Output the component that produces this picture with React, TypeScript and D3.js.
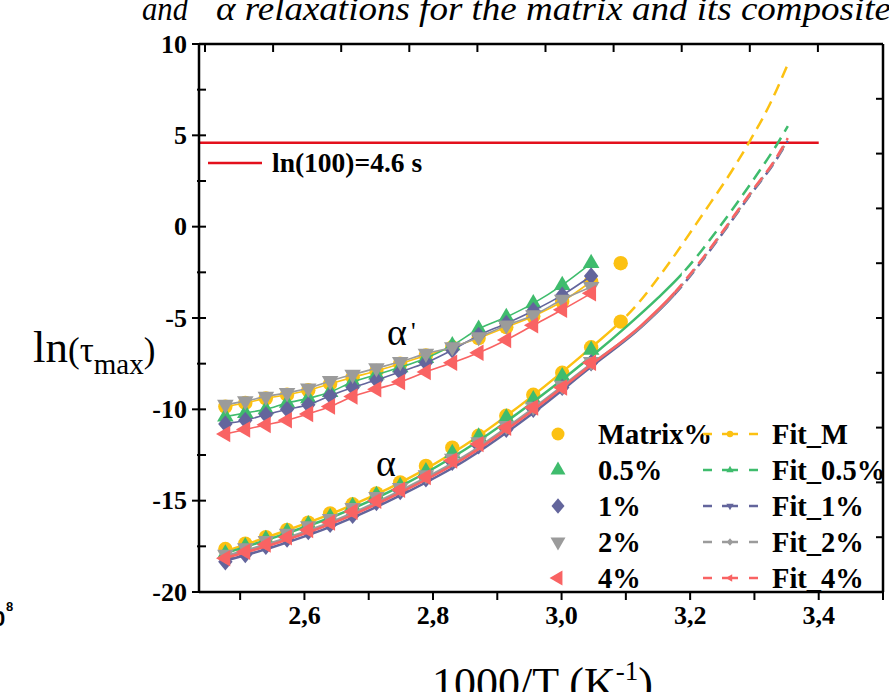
import React from 'react';
import * as d3 from 'd3';

const W = 889;
const H = 692;

// 1000/T positions of the measured temperatures
const xTemps = [2.477, 2.508, 2.540, 2.573, 2.606, 2.640, 2.675, 2.712, 2.749, 2.789, 2.830, 2.871, 2.914, 2.956, 3.001, 3.046, 3.092];

// alpha' relaxation (upper branch)
const alphaPrimeMatrix = [-9.85, -9.65, -9.4, -9.2, -8.95, -8.6, -8.25, -7.9, -7.5, -7.05, -6.6, -6.1, -5.5, -4.9, -4.1, -3.0, -2.0];
const alphaPrime05 = [-10.4, -10.2, -10.0, -9.65, -9.4, -9.05, -8.5, -8.1, -7.7, -7.2, -6.5, -5.6, -4.95, -4.2, -3.2, -2.0];
const alphaPrime1 = [-10.8, -10.6, -10.3, -10.0, -9.75, -9.25, -8.8, -8.4, -7.95, -7.45, -6.75, -5.95, -5.3, -4.6, -3.75, -2.7];
const alphaPrime2 = [-9.75, -9.55, -9.3, -9.1, -8.85, -8.45, -8.1, -7.75, -7.4, -6.95, -6.6, -6.05, -5.4, -4.85, -4.0, -3.3];
const alphaPrime4 = [-11.35, -11.1, -10.85, -10.6, -10.25, -9.85, -9.3, -8.9, -8.5, -7.95, -7.45, -6.9, -6.2, -5.4, -4.55, -3.65];

// alpha relaxation (lower branch)
const alphaMatrix = [-17.65, -17.35, -17.0, -16.6, -16.2, -15.7, -15.2, -14.6, -14.0, -13.1, -12.1, -11.45, -10.35, -9.2, -8.0, -6.6, -5.2];
const alpha05 = [-17.9, -17.5, -17.1, -16.7, -16.3, -15.9, -15.3, -14.7, -14.2, -13.4, -12.4, -11.5, -10.45, -9.45, -8.2, -6.75];
const alpha1 = [-18.35, -17.95, -17.5, -17.1, -16.7, -16.3, -15.8, -15.1, -14.5, -13.8, -12.9, -12.0, -11.1, -10.0, -8.8, -7.45];
const alpha2 = [-17.95, -17.6, -17.2, -16.8, -16.4, -16.0, -15.4, -14.8, -14.3, -13.6, -12.7, -11.8, -10.9, -9.85, -8.7, -7.4];
const alpha4 = [-18.15, -17.8, -17.4, -17.0, -16.6, -16.2, -15.6, -15.0, -14.4, -13.7, -12.8, -11.9, -11.0, -9.9, -8.8, -7.45];

// VFT fit curves
const fitXM = [2.47, 2.55, 2.65, 2.75, 2.85, 2.95, 3.05, 3.092, 3.114, 3.167, 3.218, 3.271, 3.293, 3.324, 3.352];
const fitYM = [-17.85, -16.9, -15.6, -14.0, -11.95, -9.4, -6.5, -5.2, -4.4, -2.0, 0.6, 3.4, 4.7, 6.7, 8.9];
const fitX05 = [2.47, 2.55, 2.65, 2.75, 2.85, 2.95, 3.05, 3.1, 3.15, 3.187, 3.218, 3.244, 3.271, 3.297, 3.335, 3.352];
const fitY05 = [-17.95, -17.05, -15.8, -14.2, -12.2, -9.75, -7.0, -5.5, -3.9, -2.6, -1.3, -0.1, 1.2, 2.5, 4.5, 5.5];
const fitXC = [2.47, 2.55, 2.65, 2.75, 2.85, 2.95, 3.045, 3.124, 3.176, 3.218, 3.26, 3.297, 3.329, 3.352];
const fitY1 = [-18.35, -17.55, -16.3, -14.7, -12.8, -10.35, -7.7, -5.5, -3.7, -1.9, 0.1, 1.9, 3.4, 4.7];
const fitY2 = [-18.1, -17.3, -16.05, -14.45, -12.55, -10.1, -7.55, -5.45, -3.65, -1.85, 0.15, 1.95, 3.45, 4.75];
const fitY4 = [-18.2, -17.4, -16.15, -14.55, -12.65, -10.2, -7.6, -5.4, -3.6, -1.8, 0.2, 2.0, 3.5, 4.85];

const refLevel = 4.6;
const refRange = [2.436, 3.4];

const xTickValues = [2.5, 2.6, 2.7, 2.8, 2.9, 3.0, 3.1, 3.2, 3.3, 3.4, 3.5];
const xTickLabels = ['2,6', '2,8', '3,0', '3,2', '3,4'];
const xLabelValues = [2.6, 2.8, 3.0, 3.2, 3.4];
const yMajor = [-20, -15, -10, -5, 0, 5, 10];
const yMinor = [-17.5, -12.5, -7.5, -2.5, 2.5, 7.5];

type Sym = 'circle' | 'up' | 'diamond' | 'down' | 'left';

const series = [
  { name: 'Matrix%', fit: 'Fit_M', color: '#fcc112', sym: 'circle' as Sym, ap: alphaPrimeMatrix, a: alphaMatrix, fx: fitXM, fy: fitYM, split: 3.092 },
  { name: '0.5%', fit: 'Fit_0.5%', color: '#3fbc6d', sym: 'up' as Sym, ap: alphaPrime05, a: alpha05, fx: fitX05, fy: fitY05, split: 3.187 },
  { name: '1%', fit: 'Fit_1%', color: '#63659c', sym: 'diamond' as Sym, ap: alphaPrime1, a: alpha1, fx: fitXC, fy: fitY1, split: 3.176 },
  { name: '2%', fit: 'Fit_2%', color: '#9b9b9b', sym: 'down' as Sym, ap: alphaPrime2, a: alpha2, fx: fitXC, fy: fitY2, split: 3.176 },
  { name: '4%', fit: 'Fit_4%', color: '#f96363', sym: 'left' as Sym, ap: alphaPrime4, a: alpha4, fx: fitXC, fy: fitY4, split: 3.176 },
];
const fitSmallSym: Sym[] = ['circle', 'up', 'down', 'diamond', 'left'];

function symPath(t: Sym, s: number): string {
  switch (t) {
    case 'circle':
      return `M${s},0A${s},${s} 0 1,1 ${-s},0A${s},${s} 0 1,1 ${s},0Z`;
    case 'up':
      return `M0,${-1.3 * s}L${1.15 * s},${0.68 * s}L${-1.15 * s},${0.68 * s}Z`;
    case 'down':
      return `M0,${1.3 * s}L${1.15 * s},${-0.68 * s}L${-1.15 * s},${-0.68 * s}Z`;
    case 'left':
      return `M${-1.3 * s},0L${0.68 * s},${-1.15 * s}L${0.68 * s},${1.15 * s}Z`;
    case 'diamond':
      return `M0,${-1.2 * s}L${s},0L0,${1.2 * s}L${-s},0Z`;
  }
}

const SERIF = "'Liberation Serif', 'Times New Roman', Times, serif";
const SANS = "'Liberation Sans', Arial, sans-serif";

export default function App() {
  const x = d3.scaleLinear().domain([2.436, 3.5]).range([199, 883]);
  const y = d3.scaleLinear().domain([-20, 10]).range([592, 44]);
  const xTop = d3.scaleLinear().domain([0, 10]).range([205, 886]);
  const yRight = d3.scaleLinear().domain([0, 10]).range([592, 44]);

  const line = d3
    .line<[number, number]>()
    .x((d) => x(d[0]))
    .y((d) => y(d[1]))
    .curve(d3.curveMonotoneX);

  const left = x.range()[0];
  const right = x.range()[1];
  const top = y.range()[1];
  const bottom = y.range()[0];

  const legendRowY = (i: number) => 444 + i * 36;
  const MS = 7.2;

  return (
    <div style={{ position: 'absolute', left: 0, top: 0, width: W, height: H, background: '#fff' }}>
      <svg width={W} height={H} viewBox={`0 0 ${W} ${H}`} style={{ display: 'block' }}>
        <defs>
          {series.map((s, si) => (
            <React.Fragment key={'cp' + si}>
              <clipPath id={`solid${si}`}>
                <rect x={0} y={0} width={x(s.split)} height={H} />
              </clipPath>
              <clipPath id={`dash${si}`}>
                <rect x={x(s.split)} y={0} width={W - x(s.split)} height={H} />
              </clipPath>
            </React.Fragment>
          ))}
        </defs>
        <rect x={0} y={0} width={W} height={H} fill="#fff" />

        {/* title fragment */}
        <text x={142} y={20} fontFamily={SERIF} fontStyle="italic" fontSize={34} textLength={46} lengthAdjust="spacingAndGlyphs">and</text>
        <text x={216} y={20} fontFamily={SERIF} fontStyle="italic" fontSize={34} textLength={675} lengthAdjust="spacingAndGlyphs">
          α relaxations for the matrix and its composite
        </text>

        {/* stray label from neighbour panel */}
        <text x={-7} y={626} fontFamily={SANS} fontWeight="bold" fontSize={22}>0</text>
        <text x={6} y={611} fontFamily={SANS} fontWeight="bold" fontSize={13}>8</text>

        {/* reference line */}
        <line x1={x(refRange[0])} x2={x(refRange[1])} y1={y(refLevel)} y2={y(refLevel)} stroke="#e3101c" strokeWidth={2.5} />
        <line x1={208} x2={262} y1={163} y2={163} stroke="#e3101c" strokeWidth={2.5} />
        <text x={272} y={172} fontFamily={SERIF} fontWeight="bold" fontSize={27.5}>ln(100)=4.6 s</text>

        {/* series */}
        {series.map((s, si) => {
          const fitPts = s.fx.map((v, i) => [v, s.fy[i]] as [number, number]);
          const apPts = s.ap.slice(0, 16).map((v, i) => [xTemps[i], v] as [number, number]);
          const fitD = line(fitPts) || '';
          return (
            <g key={si}>
              <path d={fitD} clipPath={`url(#dash${si})`} fill="none" stroke={s.color} strokeWidth={2.5} strokeDasharray="12,7" />
              <path d={fitD} clipPath={`url(#solid${si})`} fill="none" stroke={s.color} strokeWidth={2.5} />
              <path d={line(apPts) || ''} fill="none" stroke={s.color} strokeWidth={1.6} />
              {s.ap.map((v, i) => (
                <path key={'p' + i} d={symPath(s.sym, MS)} transform={`translate(${x(xTemps[i])},${y(v)})`} fill={s.color} />
              ))}
              {s.a.map((v, i) => (
                <path key={'a' + i} d={symPath(s.sym, MS)} transform={`translate(${x(xTemps[i])},${y(v)})`} fill={s.color} />
              ))}
            </g>
          );
        })}

        {/* branch labels */}
        <text x={387} y={345} fontFamily={SERIF} fontSize={38}>α</text>
        <text x={411} y={340} fontFamily={SERIF} fontSize={26}>'</text>
        <text x={376} y={476} fontFamily={SERIF} fontSize={38}>α</text>

        {/* legend */}
        {series.map((s, i) => {
          const cy = legendRowY(i) - 10;
          return (
            <g key={'lg' + i}>
              <path d={symPath(s.sym, 6.5)} transform={`translate(558,${cy})`} fill={s.color} />
              <text x={598} y={legendRowY(i)} fontFamily={SERIF} fontWeight="bold" fontSize={28.5}>{s.name}</text>
              <line x1={703} x2={712} y1={cy} y2={cy} stroke={s.color} strokeWidth={2.5} />
              <line x1={722} x2={738} y1={cy} y2={cy} stroke={s.color} strokeWidth={2.5} />
              <line x1={749} x2={758} y1={cy} y2={cy} stroke={s.color} strokeWidth={2.5} />
              <path d={symPath(fitSmallSym[i], 3.2)} transform={`translate(730,${cy})`} fill={s.color} />
              <text x={772} y={legendRowY(i)} fontFamily={SERIF} fontWeight="bold" fontSize={28.5}>{s.fit}</text>
            </g>
          );
        })}

        {/* frame */}
        <g stroke="#000" strokeWidth={2.5} fill="none">
          <line x1={left} x2={right} y1={bottom} y2={bottom} />
          <line x1={left} x2={right} y1={top} y2={top} />
          <line x1={left} x2={left} y1={top} y2={bottom} />
          <line x1={right} x2={right} y1={top} y2={bottom} />
        </g>

        {/* ticks */}
        <g stroke="#000" strokeWidth={2}>
          {xTickValues.map((v) => (
            <line key={'bx' + v} x1={x(v)} x2={x(v)} y1={bottom} y2={bottom + 8} />
          ))}
          {d3.range(0, 10).map((k) => (
            <line key={'tx' + k} x1={xTop(k)} x2={xTop(k)} y1={top} y2={top + 8} />
          ))}
          {yMajor.map((v) => (
            <line key={'ly' + v} x1={left - 7} x2={left + 7} y1={y(v)} y2={y(v)} />
          ))}
          {yMinor.map((v) => (
            <line key={'lm' + v} x1={left - 2} x2={left + 7} y1={y(v)} y2={y(v)} />
          ))}
          {d3.range(1, 10).map((k) => (
            <line key={'ry' + k} x1={right - 7} x2={right} y1={yRight(k)} y2={yRight(k)} />
          ))}
        </g>

        {/* tick labels */}
        {xLabelValues.map((v, i) => (
          <text key={'xl' + v} x={x(v)} y={624} textAnchor="middle" fontFamily={SERIF} fontWeight="bold" fontSize={26}>
            {xTickLabels[i]}
          </text>
        ))}
        {yMajor.map((v) => (
          <text key={'yl' + v} x={187} y={y(v) + 8.5} textAnchor="end" fontFamily={SERIF} fontWeight="bold" fontSize={26}>
            {String(v)}
          </text>
        ))}

        {/* axis titles */}
        <text x={33} y={362} fontFamily={SERIF} fill="#000">
          <tspan fontSize={45}>ln</tspan>
          <tspan fontSize={35}>(τ</tspan>
          <tspan fontSize={29} dy={12}>max</tspan>
          <tspan fontSize={35} dy={-12}>)</tspan>
        </text>
        <text x={432} y={698} fontFamily={SERIF} fontSize={44}>
          1000/T (K
          <tspan fontSize={27} dy={-18}>-1</tspan>
          <tspan fontSize={44} dy={18}>)</tspan>
        </text>
      </svg>
    </div>
  );
}
